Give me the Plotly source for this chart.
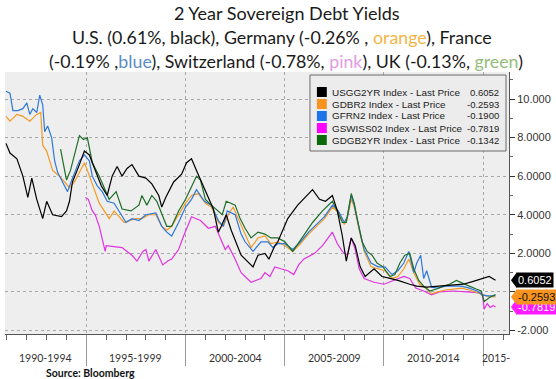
import plotly.graph_objects as go

# ---------------- data ----------------
YEARS_US = [1990.95,1991.15,1991.5,1991.8,1992.05,1992.25,1992.5,1992.8,1993.0,1993.3,
            1993.75,1994.0,1994.15,1994.3,1994.65,1994.9,1995.15,1995.5,1995.75,1996.05,
            1996.3,1996.55,1996.8,1997.05,1997.3,1997.65,1998.0,1998.3,1998.65,1998.8,
            1999.0,1999.4,1999.8,2000.05,2000.3,2000.55,2001.0,2001.4,2001.65,2001.8,
            2002.05,2002.3,2002.8,2003.4,2003.65,2004.0,2004.2,2004.5,2004.65,2005.15,
            2005.65,2006.05,2006.4,2006.75,2007.05,2007.4,2007.65,2007.9,2008.1,2008.35,
            2008.55,2008.8,2009.05,2009.5,2009.9,2010.3,2010.7,2011.3,2011.65,2012.15,
            2012.8,2013.5,2014.0,2014.5,2015.0,2015.3,2015.62]
US = [7.7,7.2,6.9,6.0,4.9,5.9,4.8,3.8,4.7,4.0,
      3.9,4.2,4.7,5.7,6.6,7.3,7.1,6.1,5.5,5.0,
      6.0,6.5,6.0,6.4,6.6,6.0,5.9,5.6,5.0,4.4,
      4.9,5.7,6.1,6.7,6.9,6.3,5.2,4.3,3.1,3.4,
      4.0,3.2,1.9,1.3,1.9,2.0,1.7,2.4,2.6,3.8,
      4.5,4.9,5.3,4.8,4.7,5.0,4.2,2.9,1.6,2.8,
      2.4,1.3,0.8,1.2,0.8,0.7,0.6,0.4,0.3,0.25,
      0.3,0.35,0.4,0.55,0.7,0.8,0.6052]

YEARS_DE = [1990.95,1991.15,1991.5,1991.8,1992.15,1992.5,1992.7,1992.8,1993.0,1993.15,
            1993.3,1993.65,1994.0,1994.15,1994.4,1994.65,1994.9,1995.05,1995.4,1995.65,
            1995.9,1996.15,1996.4,1996.65,1996.9,1997.15,1997.5,1997.8,1998.15,1998.5,
            1998.8,1999.05,1999.3,1999.65,2000.0,2000.3,2000.65,2001.0,2001.3,2001.65,
            2001.9,2002.15,2002.4,2002.65,2003.0,2003.3,2003.65,2004.0,2004.3,2004.65,
            2005.0,2005.4,2005.8,2006.2,2006.6,2007.0,2007.4,2007.7,2008.0,2008.15,
            2008.35,2008.5,2008.75,2009.0,2009.35,2009.7,2010.05,2010.4,2010.7,2011.0,
            2011.25,2011.5,2011.8,2012.1,2012.4,2012.7,2013.1,2013.5,2013.9,2014.3,
            2014.7,2014.95,2015.15,2015.4,2015.62]
DE = [9.1,8.85,9.2,9.1,8.85,9.2,9.3,7.6,7.3,6.8,
      6.3,6.0,5.6,5.4,5.7,6.2,6.7,6.3,5.3,4.6,
      4.2,3.8,4.2,3.9,3.6,3.7,3.8,3.8,4.0,4.0,
      3.4,3.2,3.4,4.0,4.6,5.0,5.1,4.6,4.4,3.6,
      3.4,4.0,4.4,3.8,3.0,2.3,2.8,2.9,2.5,2.6,
      2.4,2.1,2.5,3.0,3.4,3.8,4.4,4.1,3.5,3.8,
      4.8,4.4,3.2,2.1,1.3,1.2,1.1,0.7,0.8,1.2,
      1.7,1.0,0.4,0.2,-0.1,0.0,0.1,0.15,0.2,0.1,
      -0.05,-0.15,-0.2,-0.25,-0.2593]

YEARS_FR = [1990.95,1991.15,1991.3,1991.55,1991.8,1992.0,1992.15,1992.3,1992.5,1992.65,
            1992.8,1992.9,1993.05,1993.25,1993.4,1993.55,1993.8,1994.05,1994.3,1994.65,
            1994.9,1995.15,1995.3,1995.55,1995.8,1996.05,1996.4,1996.65,1997.0,1997.3,
            1997.65,1998.0,1998.5,1998.8,1999.05,1999.3,1999.65,2000.0,2000.3,2000.55,
            2000.95,2001.3,2001.65,2001.9,2002.1,2002.5,2002.8,2003.0,2003.4,2003.8,
            2004.15,2004.4,2004.65,2005.0,2005.4,2005.8,2006.2,2006.6,2007.0,2007.4,
            2007.7,2008.0,2008.15,2008.35,2008.5,2008.75,2009.0,2009.35,2009.7,2010.05,
            2010.4,2010.7,2011.0,2011.25,2011.5,2011.65,2011.85,2012.0,2012.15,2012.4,
            2012.7,2013.1,2013.5,2013.9,2014.3,2014.7,2014.95,2015.2,2015.4,2015.62]
FR = [10.4,10.3,9.4,9.4,9.5,9.8,9.2,9.5,9.3,10.2,
      9.7,8.3,8.6,8.0,6.8,6.2,5.7,5.2,5.9,6.8,
      7.1,6.8,6.0,5.5,5.2,4.7,4.6,4.2,3.6,3.8,
      3.7,4.0,4.1,3.4,3.1,2.9,3.6,4.4,4.8,5.3,
      4.7,4.5,3.7,3.4,4.2,4.0,3.0,2.6,2.1,2.6,
      2.6,2.3,2.5,2.5,2.2,2.6,3.1,3.5,3.9,4.5,
      4.2,3.6,3.9,5.0,4.5,3.3,2.2,1.5,1.3,1.3,
      0.9,1.1,1.5,2.1,1.0,1.5,1.9,0.7,1.1,0.25,
      0.2,0.3,0.3,0.3,0.2,0.05,-0.15,-0.2,-0.2,-0.19]

YEARS_CH = [1994.95,1995.1,1995.3,1995.45,1995.65,1995.8,1995.95,1996.0,1996.8,1997.05,
            1997.3,1997.55,1997.85,1998.0,1998.15,1998.5,1998.85,1999.1,1999.3,1999.65,
            1999.9,2000.3,2000.75,2001.15,2001.5,2001.75,2002.0,2002.15,2002.5,2002.8,
            2003.3,2003.8,2004.0,2004.25,2004.5,2004.8,2005.15,2005.45,2005.7,2005.95,
            2006.5,2006.9,2007.4,2007.65,2007.9,2008.15,2008.35,2008.55,2008.75,2009.0,
            2009.5,2010.0,2010.5,2011.0,2011.3,2011.6,2012.0,2012.4,2012.8,2013.5,
            2014.2,2014.85,2014.97,2015.05,2015.2,2015.35,2015.5,2015.62]
CH = [4.9,4.8,4.2,4.0,3.4,2.8,2.1,2.4,2.3,2.1,
      1.9,1.6,2.1,2.2,1.6,2.2,1.4,1.6,1.7,2.2,
      2.9,3.9,3.7,3.3,3.4,2.8,2.2,2.4,1.7,1.0,
      0.5,0.7,1.0,0.8,1.3,1.2,1.1,0.9,1.4,1.7,
      2.0,2.4,3.1,2.5,2.1,1.9,2.8,2.2,1.2,0.7,
      0.5,0.4,0.6,0.8,0.7,0.2,0.05,-0.15,0.0,0.05,
      0.0,-0.05,-0.2,-0.9,-0.6,-0.8,-0.7,-0.7819]

YEARS_UK = [1993.7,1993.85,1994.0,1994.2,1994.45,1994.65,1994.85,1995.05,1995.3,1995.65,
            1996.15,1996.5,1996.8,1997.25,1997.65,1997.8,1998.05,1998.3,1998.55,1998.8,
            1999.05,1999.3,1999.65,2000.0,2000.3,2000.55,2000.75,2001.0,2001.3,2001.65,
            2001.85,2002.05,2002.5,2002.75,2003.0,2003.3,2003.65,2004.0,2004.3,2004.65,
            2005.0,2005.4,2005.75,2006.0,2006.4,2006.9,2007.4,2007.65,2007.9,2008.1,
            2008.35,2008.5,2008.65,2008.9,2009.15,2009.4,2009.65,2009.95,2010.3,2010.55,
            2010.8,2011.05,2011.3,2011.5,2011.75,2012.0,2012.3,2012.65,2013.0,2013.3,
            2013.65,2013.9,2014.3,2014.65,2014.9,2015.05,2015.3,2015.62]
UK = [7.4,6.6,5.8,6.3,7.3,8.1,7.9,8.0,6.7,6.0,
      4.8,5.2,4.3,4.2,4.5,5.0,4.5,5.0,4.7,4.0,
      3.4,3.4,4.2,4.8,5.5,6.0,5.8,4.8,4.5,4.2,
      4.0,4.7,4.5,3.8,3.3,2.8,3.1,3.0,2.8,2.8,
      2.6,2.1,2.6,3.0,3.6,4.2,4.7,4.2,3.6,3.6,
      5.1,4.6,3.8,2.6,2.1,1.9,1.5,1.3,0.8,0.9,
      1.5,1.9,2.0,1.2,0.6,0.3,0.05,0.15,0.3,0.4,
      0.6,0.5,0.3,0.15,0.05,-0.5,-0.3,-0.1342]

SERIES_NAMES = ["USGG2YR Index - Last Price", "GDBR2 Index - Last Price",
                "GFRN2 Index - Last Price", "GSWISS02 Index - Last Price",
                "GDGB2YR Index - Last Price"]
BAND_LABELS = ["1990-1994", "1995-1999", "2000-2004", "2005-2009", "2010-2014", "2015-"]
BAND_STARTS = [1990, 1995, 2000, 2005, 2010, 2015]
Y_TICKS = [-2, 0, 2, 4, 6, 8, 10]
Y_TICK_TEXT = ["-2.000", "", "2.0000", "4.0000", "6.0000", "8.0000", "10.000"]

# ---------------- style ----------------
LINE_COL = {"US": "#000000", "DE": "#f39a25", "FR": "#2f78d8", "CH": "#e033e0", "UK": "#1f6e2a"}
SWATCH_COL = ["#000000", "#f7931e", "#1c74e8", "#ff00ff", "#0b6b0b"]
W, H = 556, 379
ML, MR, MT, MB = 5, 42, 72, 45
PW, PH = W - ML - MR, H - MT - MB
X_RANGE = [1990.9, 2016.3]
Y_RANGE = [-2.18, 11.40]

def px_x(px):
    return (px - ML) / PW

def px_y(py):
    return (H - MB - py) / PH

series = [
    ("CH", YEARS_CH, CH, SERIES_NAMES[3]),
    ("DE", YEARS_DE, DE, SERIES_NAMES[1]),
    ("FR", YEARS_FR, FR, SERIES_NAMES[2]),
    ("UK", YEARS_UK, UK, SERIES_NAMES[4]),
    ("US", YEARS_US, US, SERIES_NAMES[0]),
]

fig = go.Figure()
for key, xs, ys, name in series:
    fig.add_trace(go.Scatter(x=xs, y=ys, mode="lines", name=name,
                             line=dict(color=LINE_COL[key], width=1.2),
                             showlegend=False))

TICKFONT = dict(family="Liberation Sans, Arial, sans-serif", size=11, color="#333333")

fig.update_layout(
    width=W, height=H,
    margin=dict(l=ML, r=MR, t=MT, b=MB),
    paper_bgcolor="#ffffff",
    plot_bgcolor="#eeeeee",
    xaxis=dict(range=X_RANGE, tickmode="array", tickvals=BAND_STARTS[1:],
               showticklabels=False, ticks="outside", ticklen=31, tickcolor="#9a9a9a",
               tickwidth=1, showgrid=True, gridcolor="#a8a8a8", griddash="dot",
               gridwidth=1, showline=True, linecolor="#555555", linewidth=1,
               zeroline=False,
               minor=dict(tickvals=list(range(1991, 2017)), ticks="outside",
                          ticklen=5, tickcolor="#666666", showgrid=False)),
    yaxis=dict(range=Y_RANGE, side="right", tickmode="array", tickvals=Y_TICKS,
               ticktext=Y_TICK_TEXT, ticks="outside", ticklen=5, tickcolor="#333333",
               tickfont=TICKFONT, showgrid=True, gridcolor="#a8a8a8", griddash="dot",
               showline=True, linecolor="#555555", linewidth=1, zeroline=False,
               minor=dict(dtick=1, ticks="outside", ticklen=3, tickcolor="#666666",
                          showgrid=False)),
)

annotations = []
shapes = []

# Title
TF = "Lato, 'Open Sans', sans-serif"
annotations.append(dict(text="2 Year Sovereign Debt Yields", xref="paper", yref="paper",
                        x=px_x(290), y=px_y(13), xanchor="center", yanchor="middle",
                        showarrow=False, font=dict(family=TF, size=18, color="#1a1a1a")))
annotations.append(dict(
    text="U.S. (0.61%, black), Germany (-0.26% , <span style='color:#f3b546'>orange</span>), France",
    xref="paper", yref="paper", x=px_x(285), y=px_y(37), xanchor="center", yanchor="middle",
    showarrow=False, font=dict(family=TF, size=17.8, color="#1a1a1a")))
annotations.append(dict(
    text="(-0.19% ,<span style='color:#5b8cc6'>blue</span>), Switzerland (-0.78%, "
         "<span style='color:#e29be4'>pink</span>), UK (-0.13%, "
         "<span style='color:#93bd7b'>green</span>)",
    xref="paper", yref="paper", x=px_x(289), y=px_y(61), xanchor="center", yanchor="middle",
    showarrow=False, font=dict(family=TF, size=17.8, color="#1a1a1a")))

# Band labels under x axis
for lab, start in zip(BAND_LABELS, BAND_STARTS):
    lo = max(start, X_RANGE[0])
    hi = min(start + 5, X_RANGE[1])
    annotations.append(dict(text=lab, xref="x", yref="paper", x=(lo + hi) / 2,
                            y=px_y(358), xanchor="center", yanchor="middle",
                            showarrow=False,
                            font=dict(family=TF, size=10.5, color="#333333")))

# Source
annotations.append(dict(text="<b>Source: Bloomberg</b>", xref="paper", yref="paper",
                        x=px_x(44), y=px_y(373), xanchor="left", yanchor="middle",
                        showarrow=False, font=dict(family=TF, size=10.5, color="#111111")))

# Legend box (manual)
shapes.append(dict(type="rect", xref="paper", yref="paper",
                   x0=px_x(313), x1=px_x(511), y0=px_y(151), y1=px_y(75),
                   fillcolor="#ececec", line=dict(color="#6a6a6a", width=1), layer="above"))
last_vals = [US[-1], DE[-1], FR[-1], CH[-1], UK[-1]]
LF = dict(family="Liberation Sans, Arial, sans-serif", size=9.9, color="#222222")
VF = dict(family="Liberation Sans, Arial, sans-serif", size=9.5, color="#222222")
for i, (name, val, col) in enumerate(zip(SERIES_NAMES, last_vals, SWATCH_COL)):
    cy = 92 + i * 12
    shapes.append(dict(type="rect", xref="paper", yref="paper",
                       x0=px_x(320), x1=px_x(330), y0=px_y(cy + 5), y1=px_y(cy - 5),
                       fillcolor=col, line=dict(width=0), layer="above"))
    annotations.append(dict(text=name, xref="paper", yref="paper", x=px_x(333), y=px_y(cy),
                            xanchor="left", yanchor="middle", showarrow=False, font=LF))
    annotations.append(dict(text=f"{val:.4f}", xref="paper", yref="paper", x=px_x(506),
                            y=px_y(cy), xanchor="right", yanchor="middle", showarrow=False,
                            font=VF))

# Right-hand last value tags (magenta, orange, black: later ones on top)
tags = [(CH[-1], "#ff1aff", "#ffffff"), (DE[-1], "#f7931e", "#111111"),
        (US[-1], "#000000", "#ffffff")]
dy = 8 / PH * (Y_RANGE[1] - Y_RANGE[0])
for val, bg, fg in tags:
    shapes.append(dict(type="path", xref="paper", yref="y", layer="above",
                       path=f"M {1 + 2 / PW},{val} L {1 + 8 / PW},{val + dy} "
                            f"L {1 + 8 / PW},{val - dy} Z",
                       fillcolor=bg, line=dict(width=0)))
    annotations.append(dict(text=f"{val:.4f}", xref="paper", yref="y", x=1, y=val,
                            xanchor="left", yanchor="middle", xshift=7, showarrow=False,
                            bgcolor=bg, borderpad=1,
                            font=dict(family="Liberation Sans, Arial, sans-serif",
                                      size=11, color=fg)))

fig.update_layout(annotations=annotations, shapes=shapes)
fig.write_html("out.html", config={"displayModeBar": False},
               post_script="document.body.style.margin='0px';"
                           "document.body.style.overflow='hidden';")
